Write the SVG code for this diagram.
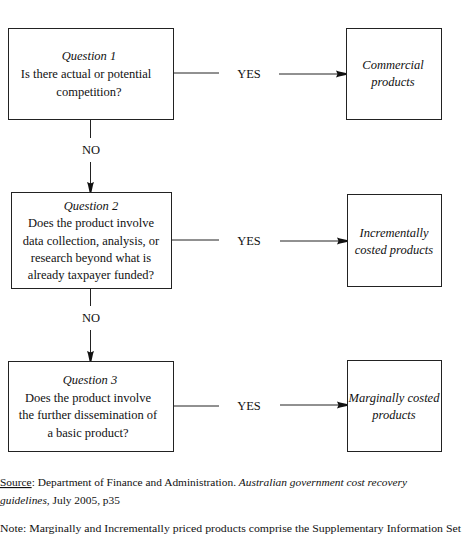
<svg xmlns="http://www.w3.org/2000/svg" width="462" height="549" viewBox="0 0 462 549">
<style>
.box{fill:#fff;stroke:#222;stroke-width:1}
.ln{stroke:#222;stroke-width:1;fill:none}
text{font-family:"Liberation Serif","Times New Roman",serif;font-size:12.5px;fill:#111}
.c{text-anchor:middle}
.i{font-style:italic}
.f{font-size:11.4px}
</style>
<defs>
<marker id="ah" markerWidth="11" markerHeight="8" refX="10" refY="4" orient="auto" markerUnits="userSpaceOnUse">
<path d="M0,0.5 L3,1.5 L10,3 L10,5 L3,6.5 L0,7.5 L1.5,4 Z" fill="#111"/>
</marker>
</defs>
<rect width="462" height="549" fill="#fff"/>
<g id="connectors">
<line class="ln" x1="173" y1="73" x2="219" y2="73"/>
<line class="ln" x1="279" y1="74" x2="346" y2="74" marker-end="url(#ah)"/>
<text x="249" y="78" class="c">YES</text>
<line class="ln" x1="171" y1="240" x2="219" y2="240"/>
<line class="ln" x1="280" y1="241" x2="347" y2="241" marker-end="url(#ah)"/>
<text x="249" y="245" class="c">YES</text>
<line class="ln" x1="173" y1="406" x2="219" y2="406"/>
<line class="ln" x1="280" y1="405" x2="347" y2="405" marker-end="url(#ah)"/>
<text x="249" y="410" class="c">YES</text>
<line class="ln" x1="90.5" y1="119" x2="90.5" y2="138"/>
<line class="ln" x1="90.5" y1="162" x2="90.5" y2="192" marker-end="url(#ah)"/>
<text x="91" y="154" class="c">NO</text>
<line class="ln" x1="90.5" y1="288" x2="90.5" y2="306"/>
<line class="ln" x1="90.5" y1="330" x2="90.5" y2="361" marker-end="url(#ah)"/>
<text x="91" y="322" class="c">NO</text>
</g>
<g id="q1">
<rect class="box" x="8.5" y="28.5" width="165" height="91"/>
<text x="89" y="60" class="c i">Question 1</text>
<text x="86" y="78" class="c">Is there actual or potential</text>
<text x="89" y="96" class="c">competition?</text>
</g>
<g id="commercial">
<rect class="box" x="346.5" y="28.5" width="95" height="91"/>
<text x="393" y="69" class="c i">Commercial</text>
<text x="393" y="86" class="c i">products</text>
</g>
<g id="q2">
<rect class="box" x="11.5" y="192.5" width="160" height="96"/>
<text x="91" y="210" class="c i">Question 2</text>
<text x="91" y="227" class="c">Does the product involve</text>
<text x="91" y="245" class="c">data collection, analysis, or</text>
<text x="91" y="262" class="c">research beyond what is</text>
<text x="91" y="279" class="c">already taxpayer funded?</text>
</g>
<g id="incremental">
<rect class="box" x="347.5" y="194.5" width="94" height="92"/>
<text x="394" y="237" class="c i">Incrementally</text>
<text x="394" y="254" class="c i">costed products</text>
</g>
<g id="q3">
<rect class="box" x="8.5" y="361.5" width="165" height="90"/>
<text x="90" y="384" class="c i">Question 3</text>
<text x="88" y="402" class="c">Does the product involve</text>
<text x="88" y="419" class="c">the further dissemination of</text>
<text x="88" y="437" class="c">a basic product?</text>
</g>
<g id="marginal">
<rect class="box" x="347.5" y="360.5" width="94" height="91"/>
<text x="394" y="402" class="c i">Marginally costed</text>
<text x="394" y="419" class="c i">products</text>
</g>
<g id="footer">
<text x="0" y="486" class="f"><tspan text-decoration="underline">Source</tspan>: Department of Finance and Administration. <tspan font-style="italic">Australian government cost recovery</tspan></text>
<text x="0" y="504" class="f"><tspan font-style="italic">guidelines</tspan>, July 2005, p35</text>
<text x="0" y="532" class="f" textLength="461" lengthAdjust="spacingAndGlyphs">Note: Marginally and Incrementally priced products comprise the Supplementary Information Set</text>
</g>
</svg>
